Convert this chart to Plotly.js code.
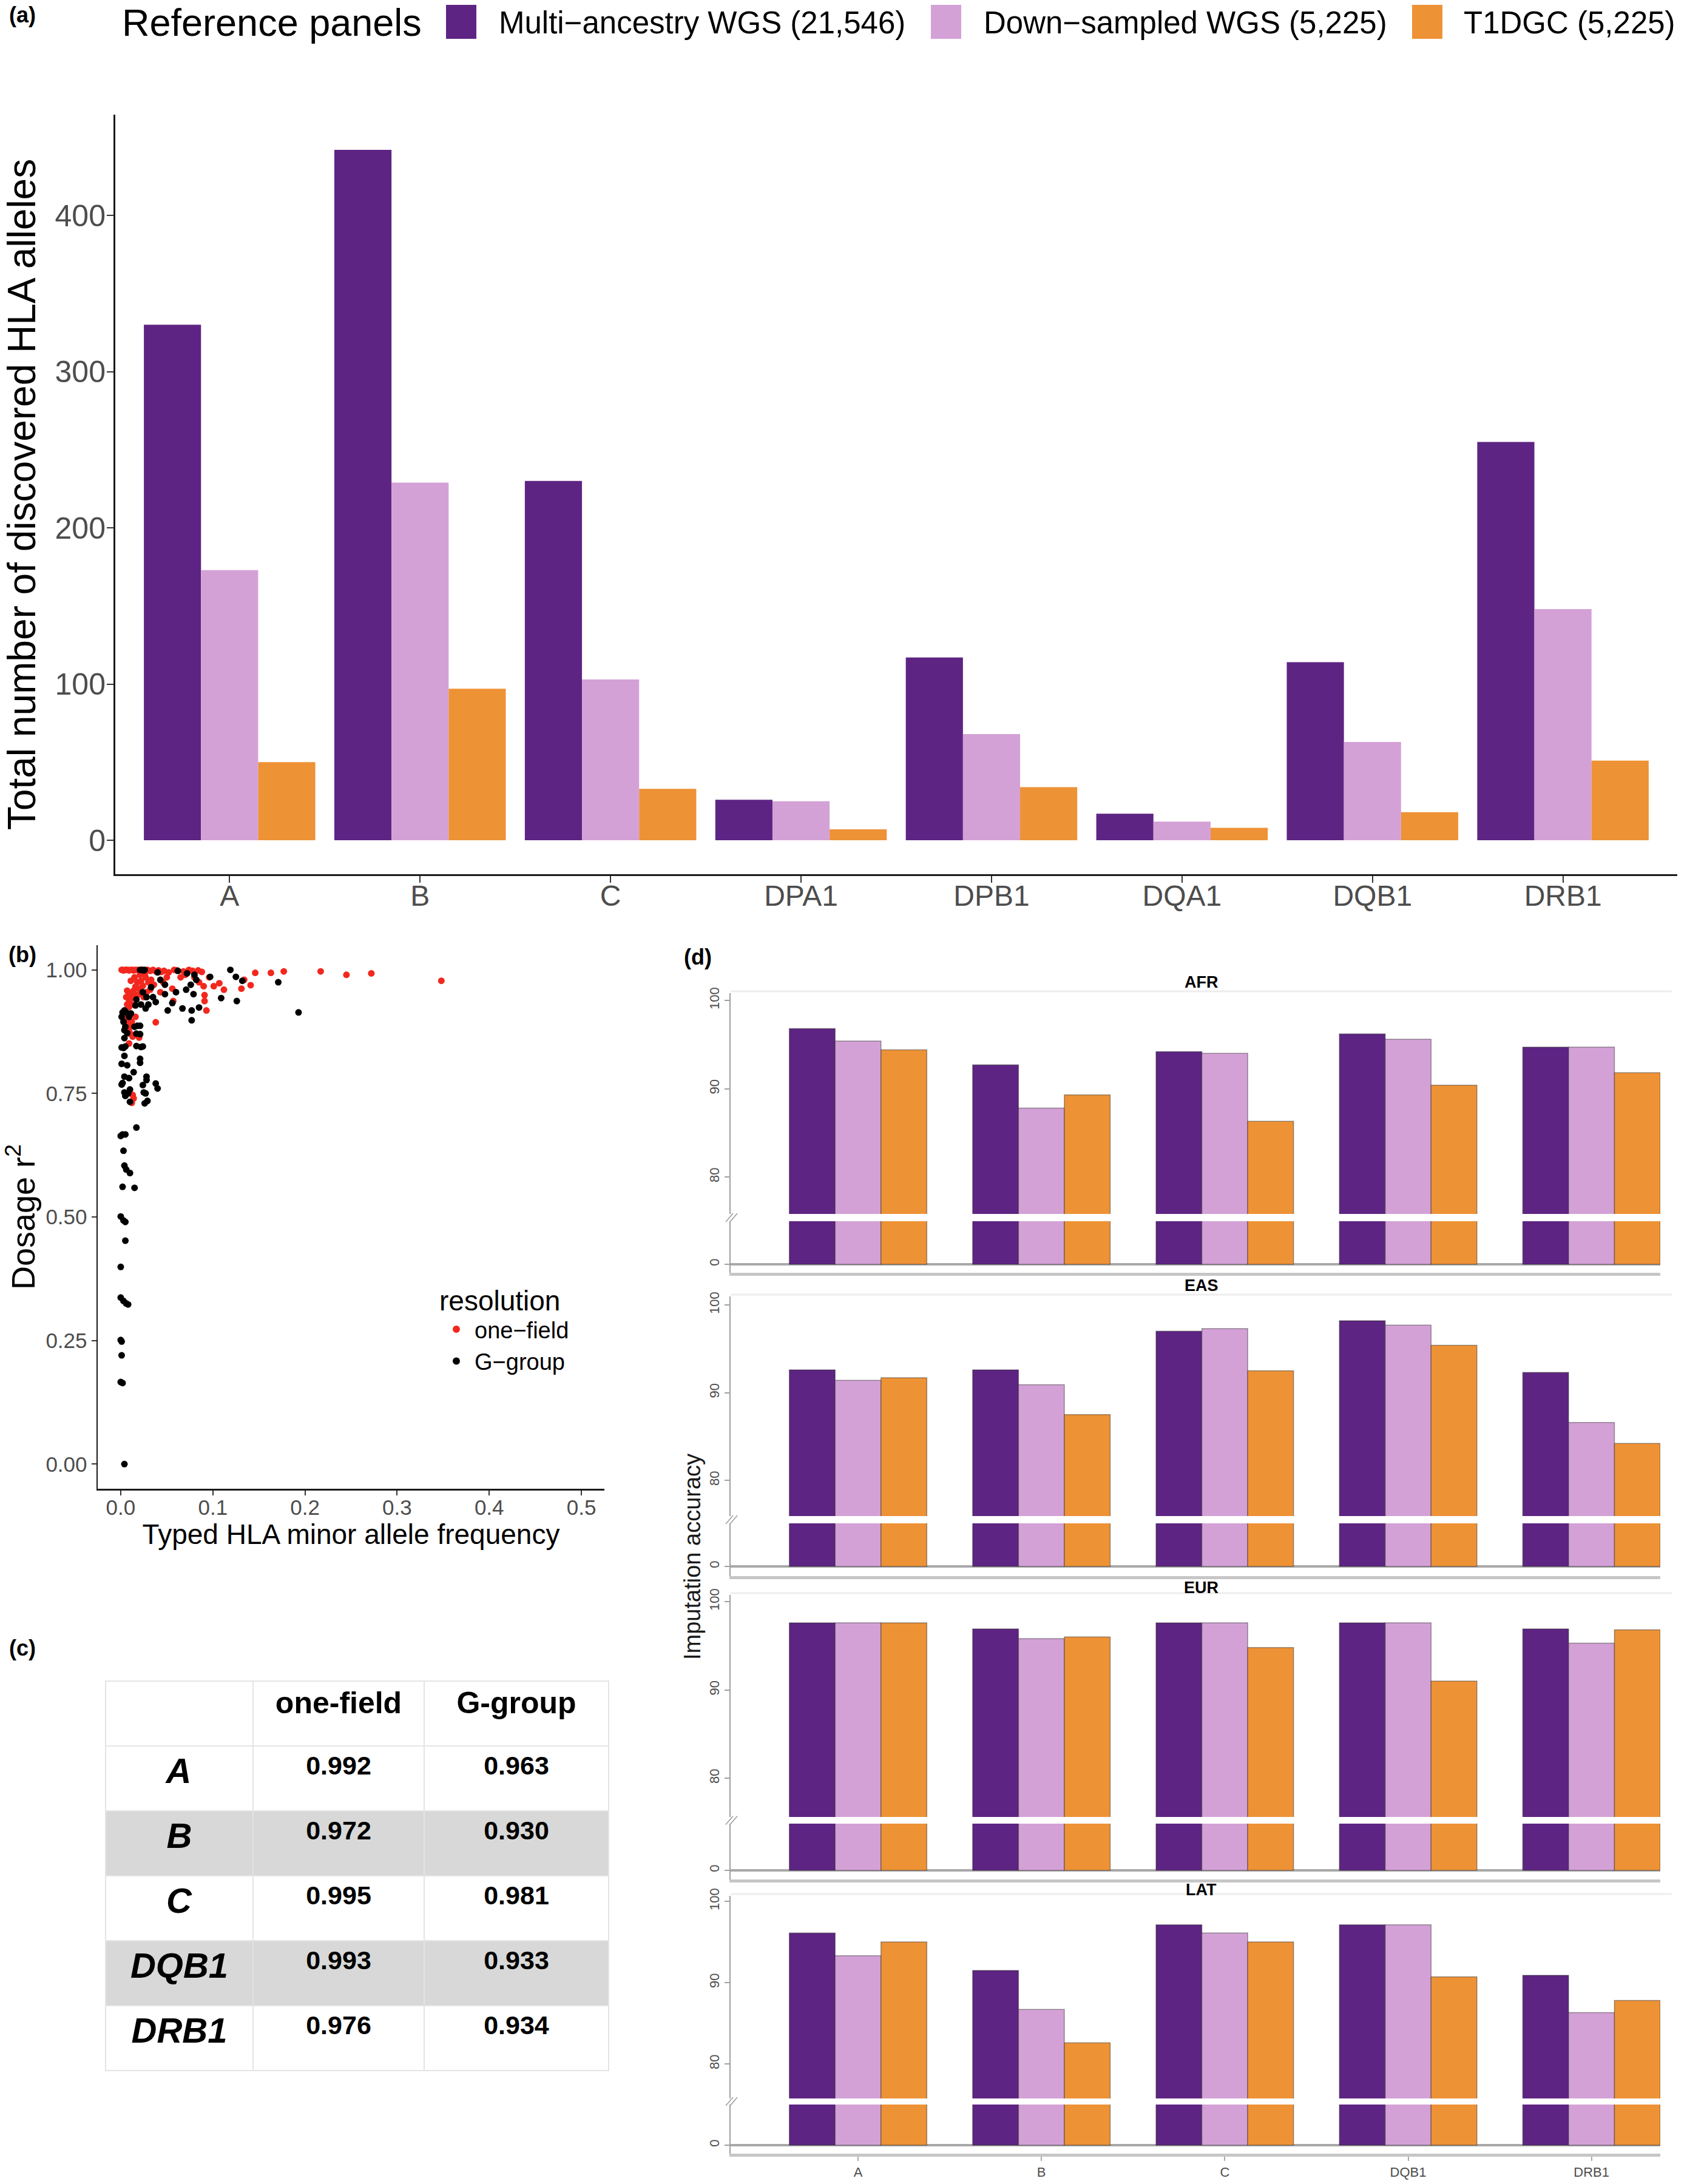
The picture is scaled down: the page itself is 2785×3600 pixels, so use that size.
<!DOCTYPE html>
<html><head><meta charset="utf-8">
<script src="https://cdn.plot.ly/plotly-3.0.1.min.js"></script>
<style>html,body{margin:0;padding:0;background:#fff}</style>
</head><body><div id="chart" style="width:2785px;height:3600px"></div>
<script>
// ---------- DATA ----------
const loci = ['A','B','C','DPA1','DPB1','DQA1','DQB1','DRB1'];
const seriesNames = ['Multi\u2212ancestry WGS (21,546)','Down\u2212sampled WGS (5,225)','T1DGC (5,225)'];
const allelesMulti = [330,442,230,26,117,17,114,255];
const allelesDown  = [173,229,103,25,68,12,63,148];
const allelesT1dgc = [50,97,33,7,34,8,18,51];

const oneFieldX = [0.001,0.002,0.003,0.005,0.006,0.008,0.009,0.011,0.013,0.014,0.016,0.018,0.019,0.024,0.027,0.029,0.032,0.035,0.038,0.041,0.044,0.047,0.052,0.058,0.061,0.068,0.074,0.078,0.084,0.088,0.096,0.101,0.107,0.112,0.131,0.134,0.141,0.146,0.163,0.177,0.217,0.245,0.272,0.348,0.090,0.091,0.091,0.093,0.057,0.056,0.043,0.038,0.085,0.080,0.070,0.065,0.050,0.046,0.036,0.033,0.030,0.027,0.024,0.022,0.020,0.018,0.016,0.014,0.012,0.011,0.010,0.009,0.008,0.007,0.009,0.012,0.015,0.019,0.025,0.028,0.032,0.006,0.007,0.008,0.009,0.010,0.012,0.011,0.013,0.009,0.020,0.016,0.013,0.012,0.014,0.006,0.005,0.026,0.021,0.015,0.011,0.007,0.006];
const oneFieldY = [1.000,1.000,0.999,1.000,1.000,1.000,0.999,1.000,1.000,0.999,1.000,1.000,0.999,1.000,0.999,1.000,0.998,1.000,0.997,0.999,0.996,0.998,0.995,1.000,0.999,0.997,1.000,0.998,0.999,0.996,0.985,0.967,0.973,0.960,0.962,0.980,0.969,0.994,0.994,0.997,0.997,0.990,0.993,0.978,0.967,0.949,0.937,0.918,0.937,0.962,0.955,0.894,0.975,0.985,0.990,0.985,0.985,0.975,0.970,0.980,0.975,0.985,0.968,0.978,0.962,0.975,0.966,0.958,0.952,0.945,0.940,0.935,0.948,0.930,0.925,0.930,0.945,0.950,0.945,0.955,0.960,0.900,0.890,0.880,0.875,0.885,0.895,0.870,0.865,0.851,0.863,0.905,0.747,0.731,0.740,0.910,0.893,0.992,0.990,0.985,0.978,0.958,0.945];
const gGroupX = [0.119,0.125,0.132,0.171,0.193,0.126,0.109,0.097,0.085,0.080,0.079,0.077,0.077,0.067,0.056,0.051,0.048,0.048,0.043,0.027,0.017,0.016,0.006,0.021,0.023,0.025,0.026,0.040,0.062,0.072,0.082,0.076,0.071,0.060,0.035,0.038,0.030,0.033,0.028,0.024,0.022,
0.002,0.004,0.009,0.011,0.001,0.003,0.005,0.007,0.018,0.021,0.015,0.004,0.017,0.021,0.004,0.001,0.003,0.005,0.017,0.022,0.024,0.004,0.021,0.021,0.001,0.007,0.014,0.004,0.009,0.028,0.028,0.002,0.001,0.024,0.025,0.010,0.008,0.004,0.027,0.029,0.026,0.038,0.040,0.005,0.010,
0.017,0.002,0.005,0.000,0.003,0.004,0.006,0.010,0.002,0.015,0.000,0.003,0.005,0.005,0.000,0.000,0.003,0.006,0.008,0.000,0.001,0.001,0.000,0.002,0.004];
const gGroupY = [1.000,0.986,0.978,0.975,0.914,0.937,0.943,0.986,0.924,0.990,0.951,0.918,0.898,0.922,0.933,0.918,0.970,0.951,0.980,0.922,0.940,0.928,0.914,1.000,1.000,0.999,1.000,0.995,0.998,0.993,0.980,0.970,0.960,0.955,0.945,0.935,0.930,0.965,0.945,0.955,0.930,
0.914,0.918,0.905,0.912,0.905,0.895,0.885,0.872,0.887,0.887,0.885,0.878,0.871,0.870,0.862,0.843,0.842,0.845,0.846,0.844,0.845,0.826,0.820,0.812,0.810,0.807,0.793,0.784,0.781,0.784,0.777,0.771,0.768,0.767,0.752,0.758,0.750,0.752,0.750,0.735,0.730,0.770,0.760,0.745,0.733,
0.681,0.667,0.667,0.664,0.634,0.604,0.596,0.589,0.561,0.559,0.501,0.493,0.490,0.452,0.399,0.337,0.330,0.325,0.323,0.251,0.248,0.220,0.166,0.164,0.000];

const tableLoci = ['A','B','C','DQB1','DRB1'];
const tableOneField = ['0.992','0.972','0.995','0.993','0.976'];
const tableGGroup = ['0.963','0.930','0.981','0.933','0.934'];

const accLoci = ['A','B','C','DQB1','DRB1'];
const populations = ['AFR','EAS','EUR','LAT'];
const afrMulti = [96.8,92.7,94.2,96.2,94.7];
const afrDown  = [95.4,87.8,94.0,95.6,94.7];
const afrT1dgc = [94.4,89.3,86.3,90.4,91.8];
const easMulti = [92.6,92.6,97.0,98.2,92.3];
const easDown  = [91.4,90.9,97.3,97.7,86.6];
const easT1dgc = [91.7,87.5,92.5,95.4,84.2];
const eurMulti = [97.6,96.9,97.6,97.6,96.9];
const eurDown  = [97.6,95.8,97.6,97.6,95.3];
const eurT1dgc = [97.6,96.0,94.8,91.0,96.8];
const latMulti = [96.1,91.5,97.1,97.1,90.9];
const latDown  = [93.3,86.7,96.1,97.1,86.3];
const latT1dgc = [95.0,82.6,95.0,90.7,87.8];

// ---------- STYLE / LAYOUT ----------
const W = 2785, H = 3600;
const fx = p => p / W;
const fy = p => 1 - p / H;
const FONT = 'Liberation Sans, Arial, Helvetica, sans-serif';
const colors = ['#5E2483', '#D4A1D7', '#EE9236'];
const tickGray = '#4D4D4D';

const traces = [];
const layout = {
  width: W, height: H,
  margin: {l: 0, r: 0, t: 0, b: 0},
  paper_bgcolor: '#FFFFFF', plot_bgcolor: 'rgba(0,0,0,0)',
  font: {family: FONT, color: '#000'},
  barmode: 'group',
  shapes: [], annotations: []
};

// ----- Panel (a) -----
const aSeries = [allelesMulti, allelesDown, allelesT1dgc];
const aOffsets = [-0.45, -0.15, 0.15];
aSeries.forEach((vals, i) => {
  traces.push({
    type: 'bar', x: loci, y: vals, name: seriesNames[i],
    xaxis: 'x', yaxis: 'y', width: 0.3, offset: aOffsets[i],
    marker: {color: colors[i], line: {width: 0}},
    showlegend: false, hoverinfo: 'x+y'
  });
});
layout.xaxis = {
  domain: [fx(190), fx(2764)], anchor: 'y', type: 'category', categoryarray: loci,
  range: [-0.6, 7.6], showline: true, linecolor: '#1A1A1A', linewidth: 3,
  ticks: 'outside', ticklen: 11, tickwidth: 2, tickcolor: '#333', ticklabelstandoff: -20,
  tickfont: {size: 48, color: tickGray, family: FONT}, showgrid: false, zeroline: false
};
layout.yaxis = {
  domain: [fy(1441), fy(189)], anchor: 'x', range: [-21.7, 464.5],
  tickvals: [0,100,200,300,400], showline: true, linecolor: '#1A1A1A', linewidth: 3,
  ticks: 'outside', ticklen: 11, tickwidth: 2, tickcolor: '#333', ticklabelstandoff: -8,
  tickfont: {size: 50, color: tickGray, family: FONT}, showgrid: false, zeroline: false,
  title: {text: 'Total number of discovered HLA alleles', standoff: 16, font: {size: 64, color: '#000', family: FONT}}
};
// manual top legend for (a)
layout.annotations.push({xref:'paper', yref:'paper', x: fx(199), y: fy(37), xanchor:'left', yanchor:'middle',
  text: 'Reference panels', showarrow: false, font: {size: 63, color: '#000', family: FONT}});
const keyX = [735, 1534, 2327];
const textX = [820, 1619, 2410];
seriesNames.forEach((nm, i) => {
  layout.shapes.push({type:'rect', xref:'paper', yref:'paper', x0: fx(keyX[i]), x1: fx(keyX[i]+50),
    y0: fy(64), y1: fy(8), fillcolor: colors[i], line: {width: 0}});
  layout.annotations.push({xref:'paper', yref:'paper', x: fx(textX[i]), y: fy(37), xanchor:'left', yanchor:'middle',
    text: nm, showarrow: false, font: {size: 51, color: '#000', family: FONT}});
});

// ----- Panel (b) -----
traces.push({
  type: 'scatter', mode: 'markers', x: oneFieldX, y: oneFieldY, name: 'one\u2212field',
  xaxis: 'x2', yaxis: 'y2', legend: 'legend2',
  marker: {color: '#F2281E', size: 11, line: {width: 0}}
});
traces.push({
  type: 'scatter', mode: 'markers', x: gGroupX, y: gGroupY, name: 'G\u2212group',
  xaxis: 'x2', yaxis: 'y2', legend: 'legend2',
  marker: {color: '#000000', size: 11, line: {width: 0}}
});
layout.xaxis2 = {
  domain: [fx(161), fx(996)], anchor: 'y2', range: [-0.025, 0.525],
  tickvals: [0,0.1,0.2,0.3,0.4,0.5], tickformat: '.1f',
  showline: true, linecolor: '#1A1A1A', linewidth: 2.5, ticks: 'outside', ticklen: 8, tickwidth: 2, tickcolor: '#333',
  ticklabelstandoff: -10,
  tickfont: {size: 35, color: tickGray, family: FONT}, showgrid: false, zeroline: false,
  title: {text: 'Typed HLA minor allele frequency', standoff: 4, font: {size: 46, color: '#000', family: FONT}}
};
layout.yaxis2 = {
  domain: [fy(2454), fy(1558)], anchor: 'x2', range: [-0.05, 1.05],
  tickvals: [0,0.25,0.5,0.75,1], tickformat: '.2f',
  showline: true, linecolor: '#1A1A1A', linewidth: 2.5, ticks: 'outside', ticklen: 8, tickwidth: 2, tickcolor: '#333',
  tickfont: {size: 35, color: tickGray, family: FONT}, showgrid: false, zeroline: false,
  title: {text: 'Dosage r<sup>2</sup>', standoff: 16, font: {size: 54, color: '#000', family: FONT}}
};
layout.legend2 = {
  x: fx(722), y: fy(2100), xanchor: 'left', yanchor: 'top', bgcolor: 'rgba(0,0,0,0)',
  title: {text: 'resolution', side: 'top', font: {size: 46, color: '#000', family: FONT}},
  font: {size: 38, color: '#000', family: FONT}, itemsizing: 'constant', itemwidth: 50, tracegroupgap: 0
};

// ----- Panel (c) table -----
const rowFill = tableLoci.map((_, i) => (i % 2 === 1 ? '#D8D8D8' : '#FFFFFF'));
traces.push({
  type: 'table',
  domain: {x: [fx(174), fx(1003)], y: [fy(3418), fy(2771)]},
  columnwidth: [243, 282, 304],
  header: {
    values: [' ', '<b>one-field</b>', '<b>G-group</b>'],
    height: 107, align: 'center', fill: {color: '#FFFFFF'},
    line: {color: '#E4E4E4', width: 2},
    font: {size: 50, color: '#000', family: FONT}
  },
  cells: {
    values: [tableLoci.map(s => '<b><i>' + s + '</i></b>'),
             tableOneField.map(v => '<b>' + v + '</b>'),
             tableGGroup.map(v => '<b>' + v + '</b>')],
    height: 107, align: 'center',
    fill: {color: [rowFill, rowFill, rowFill]},
    line: {color: '#E4E4E4', width: 2},
    font: {size: [58, 43, 43], color: '#000', family: FONT}
  }
});

// ----- Panel (d) -----
const popSeries = [
  [afrMulti, afrDown, afrT1dgc],
  [easMulti, easDown, easT1dgc],
  [eurMulti, eurDown, eurT1dgc],
  [latMulti, latDown, latT1dgc]
];
const facetGeom = [
  {top:1637, upBottom:2001, p100:1649, s:14.55, lowTop:2013, lowBottom:2098, zeroPx:2084, titleY:1619},
  {top:2137, upBottom:2499, p100:2151, s:14.45, lowTop:2511, lowBottom:2598, zeroPx:2582, titleY:2119},
  {top:2629, upBottom:2995, p100:2640, s:14.55, lowTop:3006, lowBottom:3098, zeroPx:3083, titleY:2617},
  {top:3125, upBottom:3459, p100:3134, s:13.4,  lowTop:3469, lowBottom:3550, zeroPx:3536, titleY:3115}
];
const dOffsets = [-0.375, -0.125, 0.125];
const dLeft = 1204, dRight = 2736;
populations.forEach((pop, f) => {
  const g = facetGeom[f];
  const xa = 'x' + (3 + f), yu = 'y' + (3 + 2*f), yl = 'y' + (4 + 2*f);
  [yu, yl].forEach(ya => {
    popSeries[f].forEach((vals, i) => {
      traces.push({
        type: 'bar', x: accLoci, y: vals, name: seriesNames[i] + ' ' + pop,
        xaxis: xa, yaxis: ya, width: 0.25, offset: dOffsets[i],
        marker: {color: colors[i], line: {width: 1.5, color: 'rgba(40,40,40,0.45)'}},
        showlegend: false, cliponaxis: true
      });
    });
  });
  const isLast = f === populations.length - 1;
  layout['xaxis' + (3 + f)] = {
    domain: [fx(dLeft), fx(dRight)], anchor: yl, type: 'category', categoryarray: accLoci,
    range: [-0.695, 4.375], showline: true, linecolor: '#C6C6C6', linewidth: 5,
    showticklabels: isLast, ticks: isLast ? 'outside' : '', ticklen: 7, tickwidth: 2, tickcolor: '#AAAAAA',
    tickfont: {size: 22, color: tickGray, family: FONT}, showgrid: false, zeroline: false
  };
  const upRange = [100 - (g.upBottom - g.p100)/g.s, 100 + (g.p100 - g.top)/g.s];
  layout['yaxis' + (3 + 2*f)] = {
    domain: [fy(g.upBottom), fy(g.top)], anchor: xa, range: upRange,
    tickvals: [80, 90, 100], tickangle: -90, showline: true, linecolor: '#A0A0A0', linewidth: 2,
    ticks: 'outside', ticklen: 8, tickwidth: 2, tickcolor: '#A0A0A0',
    tickfont: {size: 22, color: tickGray, family: FONT}, showgrid: false, zeroline: false
  };
  const pxPerUnit = (g.zeroPx - g.lowTop) / 10;
  layout['yaxis' + (4 + 2*f)] = {
    domain: [fy(g.lowBottom), fy(g.lowTop)], anchor: xa, range: [-(g.lowBottom - g.zeroPx)/pxPerUnit, 10],
    tickvals: [0], tickangle: -90, showline: true, linecolor: '#A0A0A0', linewidth: 2,
    ticks: 'outside', ticklen: 8, tickwidth: 2, tickcolor: '#A0A0A0',
    tickfont: {size: 22, color: tickGray, family: FONT}, showgrid: false,
    zeroline: true, zerolinecolor: '#A8A8A8', zerolinewidth: 4
  };
  // strip line + title
  layout.shapes.push({type:'line', xref:'paper', yref:'paper', x0: fx(dLeft), x1: fx(2755),
    y0: fy(g.top - 3), y1: fy(g.top - 3), line: {color: '#EDEDED', width: 3}});
  layout.annotations.push({xref:'paper', yref:'paper', x: fx(1980), y: fy(g.titleY), xanchor:'center', yanchor:'middle',
    text: '<b>' + pop + '</b>', showarrow: false, font: {size: 27, color: '#000', family: FONT}});
  // break marks
  const bm = (g.upBottom + g.lowTop) / 2;
  [0, 7].forEach(d => {
    layout.shapes.push({type:'line', xref:'paper', yref:'paper', x0: fx(1196 + d), x1: fx(1208 + d),
      y0: fy(bm + 7), y1: fy(bm - 7), line: {color: '#9A9A9A', width: 1.5}});
  });
});
layout.annotations.push({xref:'paper', yref:'paper', x: fx(1141), y: fy(2566), xanchor:'center', yanchor:'middle',
  text: 'Imputation accuracy', textangle: -90, showarrow: false, font: {size: 38, color: '#1A1A1A', family: FONT}});

// panel labels
[['(a)', 37, 25], ['(b)', 37, 1573], ['(c)', 37, 2716], ['(d)', 1150, 1577]].forEach(([t, px, py]) => {
  layout.annotations.push({xref:'paper', yref:'paper', x: fx(px), y: fy(py), xanchor:'center', yanchor:'middle',
    text: '<b>' + t + '</b>', showarrow: false, font: {size: 36, color: '#000', family: FONT}});
});

Plotly.newPlot('chart', traces, layout, {displayModeBar: false, staticPlot: true});
</script>
</body></html>
